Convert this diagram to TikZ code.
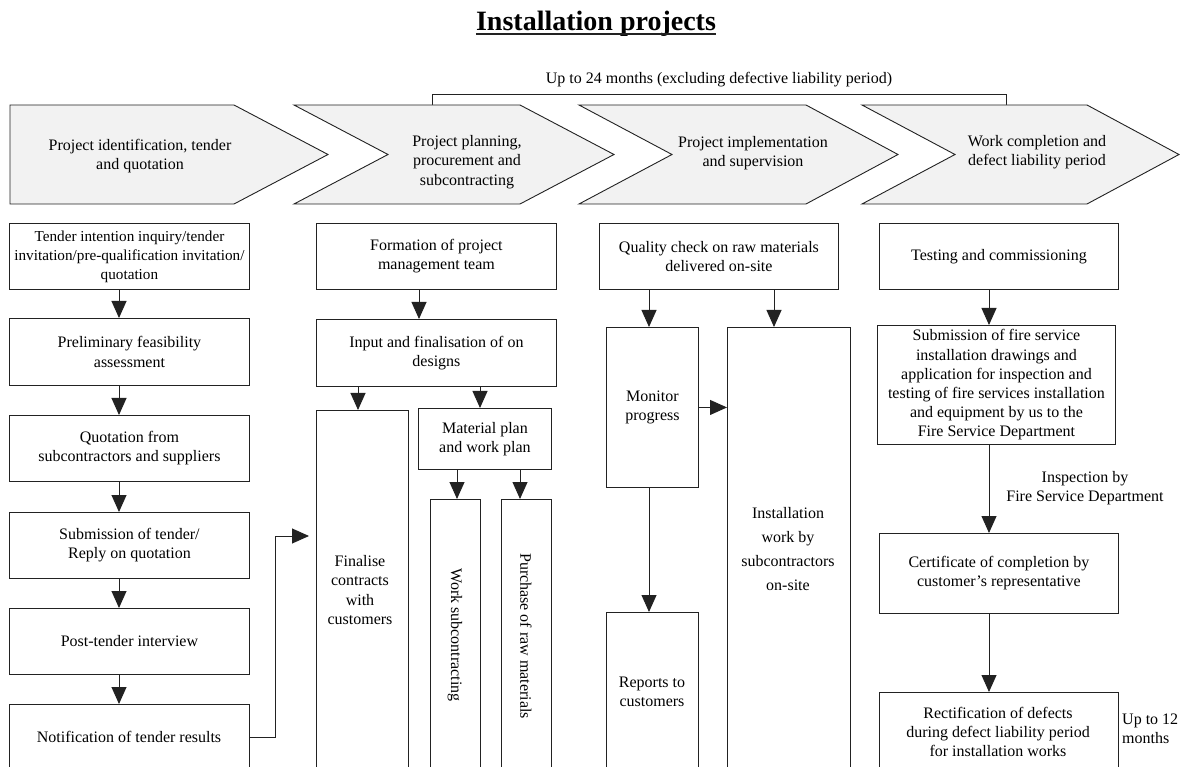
\documentclass[tikz,border=0pt]{standalone}
\usepackage{fontspec}
\setmainfont{Liberation Serif}
\usetikzlibrary{arrows.meta,calc}
\definecolor{chev}{HTML}{F2F2F2}
\definecolor{ln}{HTML}{222222}
\newcommand\fsz{\fontsize{16}{19.2}\selectfont}
\begin{document}
\begin{tikzpicture}[x=1pt,y=-1pt,
  box/.style={draw=ln, line width=0.9pt, fill=white, inner sep=2pt, align=center, font=\fsz, anchor=north west},
  txt/.style={align=center, font=\fsz, inner sep=0pt},
  arr/.style={draw=ln, line width=0.9pt, -{Triangle[length=17pt,width=15pt]}},
  chevron/.style={draw=ln, line width=0.9pt, fill=chev},
  bracket/.style={draw=ln, line width=0.9pt}]
\useasboundingbox (0,0) rectangle (1184,767);
\clip (0,0) rectangle (1184,767);

% title
\node[font=\fontsize{28}{32}\selectfont\bfseries, inner sep=0pt, anchor=base] (title) at (596,31) {Installation projects};
\draw[ln, line width=1.3pt] (title.base west) ++(0,3) -- ($(title.base east)+(0,3)$);

% bracket
\node[txt] (brk) at (719,80) {Up to 24 months (excluding defective liability period)};
\draw[bracket] (432,105) -- (432,94) -- (1006,94) -- (1006,105);

% chevrons
\draw[chevron] (10,105) -- (234,105) -- (328,154.5) -- (234,204) -- (10,204) -- cycle;
\draw[chevron] (294,105) -- (520,105) -- (614,154.5) -- (520,204) -- (294,204) -- (388,154.5) -- cycle;
\draw[chevron] (579,105) -- (806,105) -- (898,154.5) -- (806,204) -- (579,204) -- (672,154.5) -- cycle;
\draw[chevron] (862,105) -- (1087,105) -- (1179,154.5) -- (1087,204) -- (862,204) -- (955,154.5) -- cycle;
\node[txt] (p1) at (140,156) {Project identification, tender\\and quotation};
\node[txt] (p2) at (467,162) {Project planning,\\procurement and\\subcontracting};
\node[txt] (p3) at (753,153) {Project implementation\\and supervision};
\node[txt] (p4) at (1037,152) {Work completion and\\defect liability period};

% column 1
\node[box, minimum width=240pt, minimum height=66pt, font=\fontsize{15.2}{19}\selectfont] (b1) at (9,223) {Tender intention inquiry/tender\\invitation/pre-qualification invitation/\\quotation};
\node[box, minimum width=240pt, minimum height=67pt] (b2) at (9,318) {Preliminary feasibility\\assessment};
\node[box, minimum width=240pt, minimum height=66pt] (b3) at (9,415) {Quotation from\\subcontractors and suppliers};
\node[box, minimum width=240pt, minimum height=66pt] (b4) at (9,512) {Submission of tender/\\Reply on quotation};
\node[box, minimum width=240pt, minimum height=66pt] (b5) at (9,608) {Post-tender interview};
\node[box, minimum width=240pt, minimum height=110pt] (b6) at (9,704) {};
\node[txt] (t6) at (129,737) {Notification of tender results};

% column 2
\node[box, minimum width=240pt, minimum height=66pt] (form) at (316,223) {Formation of project\\management team};
\node[box, minimum width=240pt, minimum height=67pt] (inp) at (316,319) {Input and finalisation of on\\designs};
\node[box, minimum width=92pt, minimum height=400pt] (fin) at (316,410) {};
\node[txt] (tfin) at (360,590) {Finalise\\contracts\\with\\customers};
\node[box, minimum width=133pt, minimum height=61pt] (mat) at (418,408) {Material plan\\and work plan};
\node[box, minimum width=50pt, minimum height=310pt] (ws) at (430,499) {};
\node[txt, rotate=-90] (tws) at (455,635) {Work subcontracting};
\node[box, minimum width=50pt, minimum height=310pt] (pr) at (501,499) {};
\node[txt, rotate=-90] (tpr) at (526,636) {Purchase of raw materials};

% column 3
\node[box, minimum width=239pt, minimum height=66pt] (qc) at (599,223) {Quality check on raw materials\\delivered on-site};
\node[box, minimum width=92pt, minimum height=160pt] (mon) at (606,327) {Monitor\\progress};
\node[box, minimum width=123pt, minimum height=480pt] (inst) at (727,327) {};
\node[txt, font=\fontsize{16}{24}\selectfont] (tinst) at (788,549) {Installation\\work by\\subcontractors\\on-site};
\node[box, minimum width=92pt, minimum height=200pt] (rep) at (606,612) {};
\node[txt] (trep) at (652,692) {Reports to\\customers};

% column 4
\node[box, minimum width=239pt, minimum height=66pt] (test) at (879,223) {Testing and commissioning};
\node[box, minimum width=238pt, minimum height=119pt] (sub) at (877,325) {Submission of fire service\\installation drawings and\\application for inspection and\\testing of fire services installation\\and equipment by us to the\\Fire Service Department};
\node[txt] (insp) at (1085,488) {Inspection by\\Fire Service Department};
\node[box, minimum width=239pt, minimum height=80pt] (cert) at (879,533) {Certificate of completion by\\customer’s representative};
\node[box, minimum width=239pt, minimum height=120pt] (rect) at (879,692) {};
\node[txt] (trect) at (998,732) {Rectification of defects\\during defect liability period\\for installation works};
\node[txt, align=left, anchor=west] (up12) at (1122,728.5) {Up to 12\\months};

% arrow columns
\coordinate (ca) at (119,0);
\coordinate (cb) at (419,0);
\coordinate (cc) at (358,0);
\coordinate (cd) at (480,0);
\coordinate (ce) at (457,0);
\coordinate (cf) at (520,0);
\coordinate (cg) at (649,0);
\coordinate (ch) at (774,0);
\coordinate (ci) at (989,0);

% connectors
\draw[arr] (ca |- b1.south) -- (ca |- b2.north);
\draw[arr] (ca |- b2.south) -- (ca |- b3.north);
\draw[arr] (ca |- b3.south) -- (ca |- b4.north);
\draw[arr] (ca |- b4.south) -- (ca |- b5.north);
\draw[arr] (ca |- b5.south) -- (ca |- b6.north);
\draw[arr, shorten >=7pt] (b6.east |- t6) -- ++(26,0) |- ($(fin.north west)+(0,126)$);

\draw[arr] (cb |- form.south) -- (cb |- inp.north);
\draw[arr] (cc |- inp.south) -- (cc |- fin.north);
\draw[arr] (cd |- inp.south) -- (cd |- mat.north);
\draw[arr] (ce |- mat.south) -- (ce |- ws.north);
\draw[arr] (cf |- mat.south) -- (cf |- pr.north);

\draw[arr] (cg |- qc.south) -- (cg |- mon.north);
\draw[arr] (ch |- qc.south) -- (ch |- inst.north);
\draw[arr] (mon.east) -- (mon.east -| inst.west);
\draw[arr] (cg |- mon.south) -- (cg |- rep.north);

\draw[arr] (ci |- test.south) -- (ci |- sub.north);
\draw[arr] (ci |- sub.south) -- (ci |- cert.north);
\draw[arr] (ci |- cert.south) -- (ci |- rect.north);
\end{tikzpicture}
\end{document}
